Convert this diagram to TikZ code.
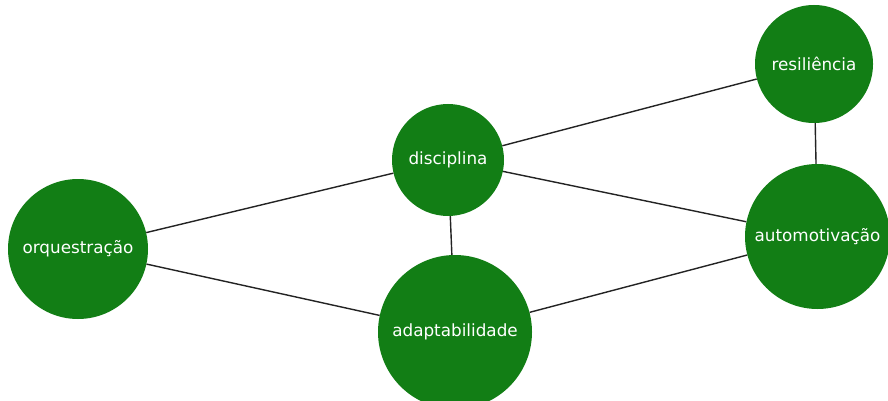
\documentclass[tikz,border=0pt]{standalone}
\usepackage{fontspec}
\setmainfont{DejaVu Sans}
\definecolor{nodegreen}{RGB}{18,126,21}
\definecolor{edgegray}{RGB}{35,35,35}
\tikzset{
  skill/.style={circle, fill=nodegreen, draw=none, inner sep=0pt,
    text=white, font=\fontsize{16.8}{20}\selectfont, minimum size=#1},
  link/.style={draw=edgegray, line width=1.4pt}
}
\begin{document}
\begin{tikzpicture}[x=1pt,y=-1pt]
  \useasboundingbox (0,0) rectangle (888,401);
  \fill[white] (0,0) rectangle (888,401);
  \clip (0,0) rectangle (888,401);
  % skill circles
  \node[skill=140pt] (orq) at (78,249) {orquestração};
  \node[skill=112pt] (dis) at (448,160) {disciplina};
  \node[skill=118pt] (res) at (814,64) {resiliência};
  \node[skill=145pt] (aut) at (817.5,236.5) {automotivação};
  \node[skill=154pt] (ada) at (455,332) {adaptabilidade};
  % links between skills
  \draw[link] (orq) -- (dis);
  \draw[link] (orq) -- (ada);
  \draw[link] (dis) -- (ada);
  \draw[link] (dis) -- (res);
  \draw[link] (dis) -- (aut);
  \draw[link] (ada) -- (aut);
  \draw[link] (res) -- (aut);
\end{tikzpicture}
\end{document}
